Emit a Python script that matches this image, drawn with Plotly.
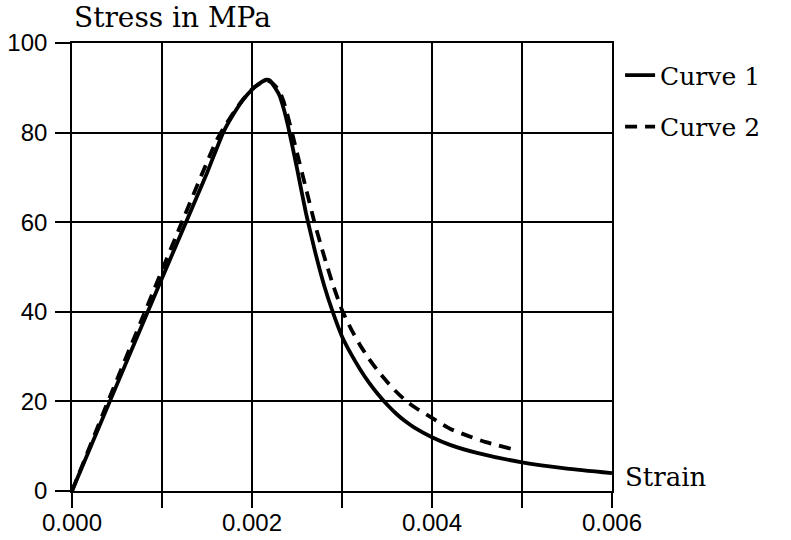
import plotly.graph_objects as go

# Curve 1: strain (-) and stress (MPa)
strain_1 = [0.0, 0.0005, 0.001, 0.0015, 0.00168, 0.0018, 0.0019, 0.002, 0.0021,
            0.00216, 0.0022, 0.0023, 0.00235, 0.0024, 0.0025, 0.0026, 0.0027,
            0.0028, 0.0029, 0.003, 0.0031, 0.0032, 0.0033, 0.0034, 0.0035,
            0.0036, 0.0037, 0.0038, 0.004, 0.0042, 0.0045, 0.005, 0.0055, 0.006]
stress_1 = [0.0, 23.8, 47.5, 71.0, 80.0, 84.3, 87.3, 89.6, 91.2,
            91.8, 91.6, 88.5, 85.5, 81.5, 72.0, 62.0, 53.5,
            46.0, 39.8, 34.5, 30.6, 27.2, 24.2, 21.6, 19.3,
            17.3, 15.6, 14.2, 12.0, 10.3, 8.5, 6.4, 5.0, 4.0]

# Curve 2: strain (-) and stress (MPa)
strain_2 = [0.0, 0.0004, 0.0008, 0.0012, 0.0016, 0.0017, 0.0018, 0.0019, 0.002,
            0.0021, 0.00216, 0.0022, 0.0023, 0.00235, 0.0024, 0.0025, 0.0026,
            0.0027, 0.0028, 0.0029, 0.003, 0.0031, 0.0032, 0.0033, 0.0034,
            0.0035, 0.0036, 0.0037, 0.0038, 0.004, 0.0042, 0.0044, 0.0046, 0.0049]
stress_2 = [0.0, 20.0, 39.5, 59.0, 78.0, 81.5, 84.6, 87.4, 89.7,
            91.1, 91.6, 91.4, 89.5, 87.0, 83.5, 75.5, 67.5,
            59.5, 52.5, 46.0, 40.4, 36.2, 32.6, 29.5, 26.8,
            24.4, 22.2, 20.3, 18.8, 16.3, 13.9, 12.3, 10.9, 9.3]

x_ticks = [0.0, 0.001, 0.002, 0.003, 0.004, 0.005, 0.006]
x_tick_labels = ["0.000", "", "0.002", "", "0.004", "", "0.006"]
y_ticks = [0, 20, 40, 60, 80, 100]

serif = "DejaVu Serif"
sans = "Liberation Sans"

fig = go.Figure()
fig.add_trace(go.Scatter(
    x=strain_1, y=stress_1, mode="lines", name="Curve 1",
    line=dict(color="black", width=3.8, shape="spline", smoothing=0.5),
    legendgroup="c1",
))
fig.add_trace(go.Scatter(
    x=strain_2, y=stress_2, mode="lines", name="Curve 2",
    line=dict(color="black", width=3.8, dash="12px,8px", shape="spline", smoothing=0.5),
    legendgroup="c2",
))

axis_common = dict(
    showgrid=True, gridcolor="black", gridwidth=1.6,
    showline=True, linecolor="black", linewidth=1.6, mirror=True,
    ticks="outside", ticklen=15, tickwidth=1.6, tickcolor="black",
    zeroline=False, automargin=False,
    tickfont=dict(family=sans, size=24, color="black"),
)

fig.update_xaxes(range=[0, 0.006], tickvals=x_ticks, ticktext=x_tick_labels,
                 ticklabelstandoff=-6, **axis_common)
fig.update_yaxes(range=[0, 100], tickvals=y_ticks, ticklabelstandoff=3,
                 **axis_common)

fig.add_annotation(text="Stress in MPa", xref="paper", yref="paper",
                   x=0.0, y=1.058, xanchor="left", yanchor="middle",
                   showarrow=False,
                   font=dict(family=serif, size=28, color="black"))
fig.add_annotation(text="Strain", xref="paper", yref="paper",
                   x=1.02, y=0.031, xanchor="left", yanchor="middle",
                   showarrow=False,
                   font=dict(family=serif, size=26, color="black"))

fig.update_layout(
    width=791, height=540,
    margin=dict(l=72, r=179, t=43, b=49, autoexpand=False),
    paper_bgcolor="white", plot_bgcolor="white",
    showlegend=True,
    legend=dict(x=1.015, y=0.979, xanchor="left", yanchor="top",
                font=dict(family=serif, size=25, color="black"),
                tracegroupgap=16, bgcolor="rgba(0,0,0,0)"),
)

fig.write_html("out.html")
